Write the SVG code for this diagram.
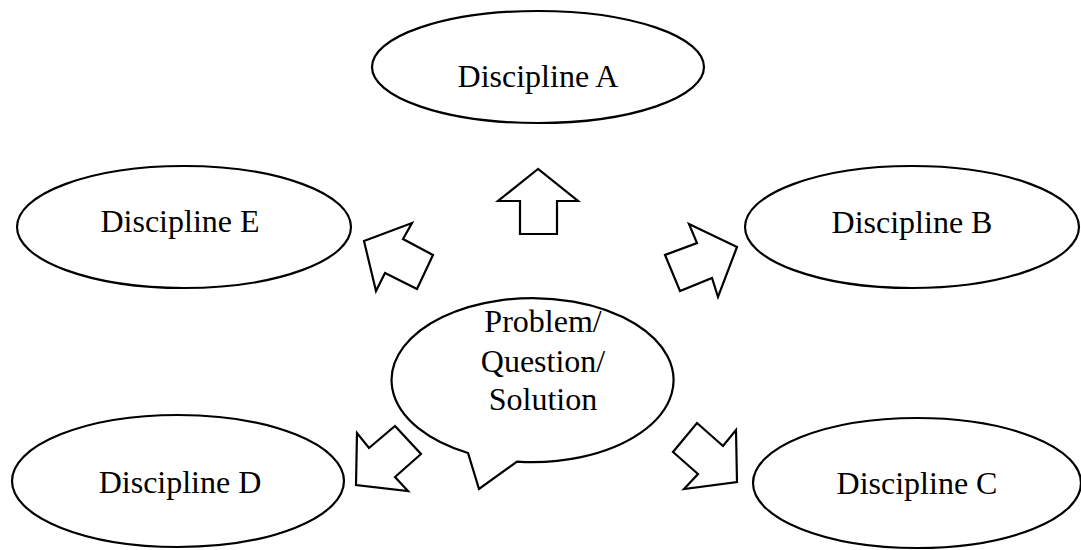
<svg xmlns="http://www.w3.org/2000/svg" width="1081" height="550" viewBox="0 0 1081 550">
<style>
.shape{fill:#fff;stroke:#000;stroke-width:2.2;stroke-linejoin:miter}
.lbl{font-family:"Liberation Serif","Times New Roman",serif;font-size:32px;fill:#000;text-anchor:middle}
</style>
<rect width="1081" height="550" fill="#fff"/>
<g id="discipline-a"><ellipse class="shape" cx="538" cy="67" rx="166" ry="56"/><text class="lbl" x="538" y="87">Discipline A</text></g>
<g id="discipline-e"><ellipse class="shape" cx="184" cy="227" rx="167" ry="61"/><text class="lbl" x="180" y="232">Discipline E</text></g>
<g id="discipline-b"><ellipse class="shape" cx="912" cy="227" rx="167" ry="61"/><text class="lbl" x="912" y="233">Discipline B</text></g>
<g id="discipline-d"><ellipse class="shape" cx="178" cy="481" rx="166" ry="66"/><text class="lbl" x="180" y="493">Discipline D</text></g>
<g id="discipline-c"><ellipse class="shape" cx="917" cy="483" rx="164" ry="65"/><text class="lbl" x="917" y="494">Discipline C</text></g>
<g id="center"><path class="shape" d="M468,453 A141,82 0 1 1 517,461.6 L479,489 Z"/>
<text class="lbl" x="543" y="332">Problem/</text><text class="lbl" x="543" y="372">Question/</text><text class="lbl" x="543" y="410">Solution</text></g>
<g id="connectors">
<polygon class="shape" points="538,169 498,201 520,201 520,234 557,234 557,201 578,201"/>
<polygon class="shape" points="364,241 412,223 403,239 433,255 417,289 385,273 376,291"/>
<polygon class="shape" points="737,247 689,224 697,243 665,255 680,291 712,278 718,297"/>
<polygon class="shape" points="356,485 357,433 369,448 395,426 421,454 395,477 408,491"/>
<polygon class="shape" points="737,482 736,430 723,446 697,423 673,452 698,474 684,489"/>
</g>
</svg>
